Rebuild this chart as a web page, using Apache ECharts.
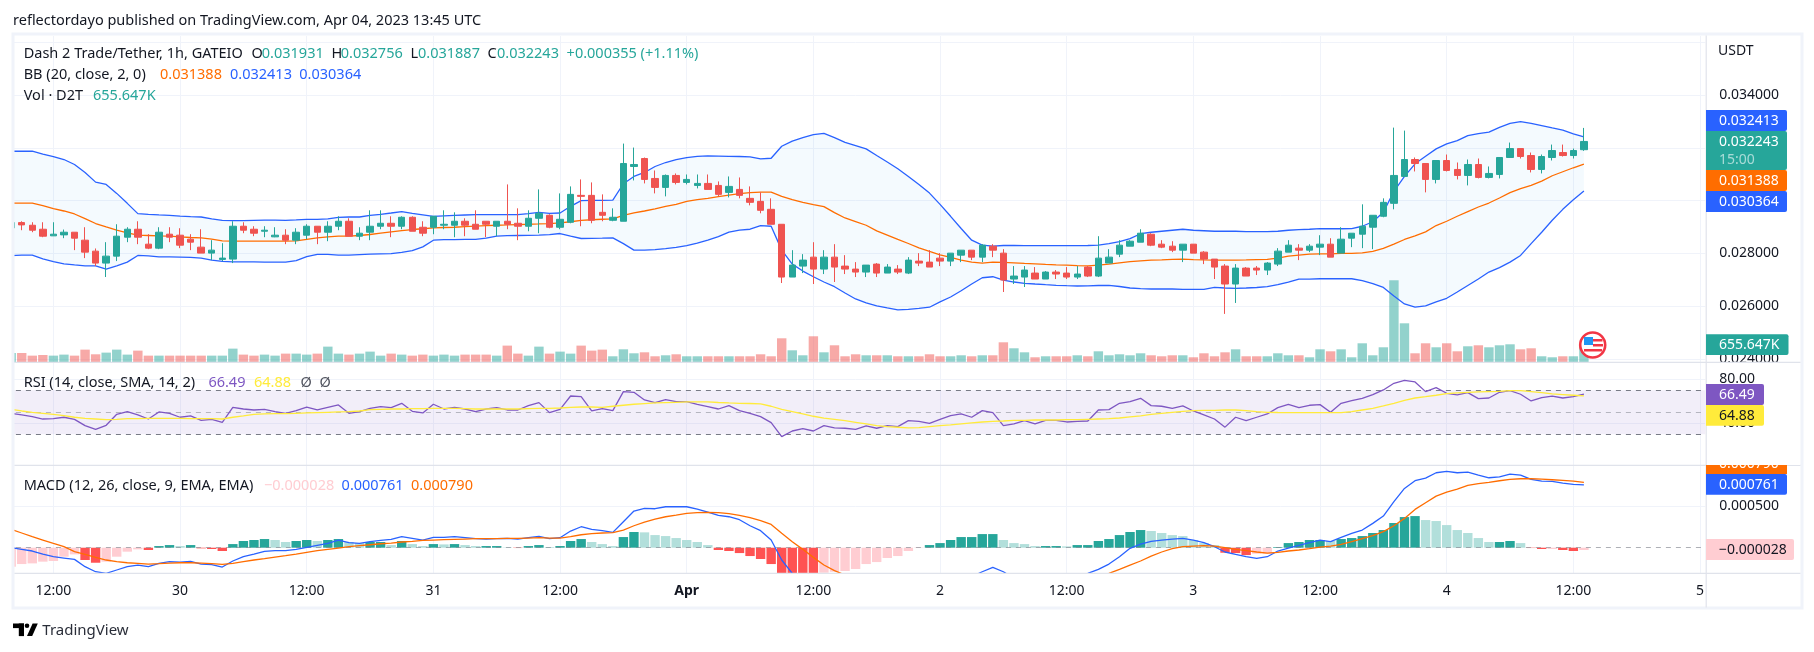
<!DOCTYPE html>
<html><head><meta charset="utf-8">
<style>html,body{margin:0;padding:0;background:#fff}#c{width:1814px;height:652px}</style>
<script src="https://cdn.jsdelivr.net/npm/echarts@6/dist/echarts.min.js"></script>
</head><body><div id="c"></div>
<script>
// Prices in millionths of a USDT (micro-USDT); volume in thousands; one entry per hourly bar.
const openPrice=[28968,29169,29068,28917,28666,28703,28804,28502,28087,27634,27898,28615,28917,28351,28200,28729,28691,28540,28238,28012,27773,27785,29031,28917,28842,28628,28691,28502,28691,29031,28804,29031,29219,28653,28804,29030,29143,29030,29370,28992,28992,29068,29068,29219,29105,29219,29030,29219,29143,29030,29332,29445,28992,29181,30200,30200,29558,29256,29219,31294,31596,30841,30502,30955,30691,30577,30653,30577,30313,30426,30087,29973,29672,29105,27105,27520,27860,27407,27860,27520,27407,27294,27596,27256,27407,27256,27709,27671,27822,27709,27935,28124,27860,28275,28011,27030,27105,27256,27030,27294,27256,27105,27483,27143,27634,27973,28275,28426,28728,28351,28275,28124,28351,28049,27785,27521,26841,27445,27445,27370,27596,28049,28200,28124,28238,28351,28012,28578,28729,28993,29408,29899,30918,31559,31408,30804,31521,31182,30955,31370,30880,30993,31635,31974,31710,31182,31635,31823,31710,31931];
const highPrice=[29194,29219,29182,29182,29182,28905,28804,28993,28188,28427,29106,28993,29219,28729,28993,28993,28955,28729,28917,28502,28389,29219,29182,29031,29031,28993,28917,28955,29106,29031,29219,29408,29332,28992,29634,29634,29407,29407,29407,29219,29407,29634,29558,29332,29634,29219,29219,30615,29709,29634,30426,29483,30275,30540,30804,30691,30238,29709,32162,32011,31634,31143,30992,31030,30992,30992,30992,30728,30917,30879,30540,30313,30087,29105,28124,27973,28426,28124,28351,27935,27671,27558,27634,27596,27558,27860,28011,28124,28011,28011,28124,28124,28351,28351,28162,27521,27521,27483,27332,27370,27483,27521,27521,28653,28162,28502,28502,28917,28766,28502,28464,28351,28351,28087,27785,27596,27596,27483,27521,27672,28200,28502,28351,28351,28690,28577,28993,28766,29861,29446,30087,32767,32654,31635,31408,31521,31748,31446,31559,31597,31295,31635,32201,31974,31823,31748,32125,32125,31974,32756];
const lowPrice=[28943,28880,28804,28615,28666,28578,28125,27823,27521,27106,27710,28427,28351,28163,28163,28427,28200,28125,28012,27747,27710,27634,28766,28653,28615,28615,28351,28351,28540,28351,28464,28880,28653,28502,28502,28917,28615,28917,28841,28653,28728,28917,28615,28653,28917,28615,28653,28917,28502,28841,28766,28954,28917,29143,29030,29143,29219,29219,29219,30766,30653,30275,30162,30615,30615,30464,30426,30162,30124,30087,29822,29521,29105,26879,27105,27256,26841,27218,26917,27218,27105,27105,27105,27256,27218,27218,27520,27483,27520,27520,27671,27747,27671,27860,26539,26841,26728,27030,27030,27030,27030,27030,27105,27105,27634,27860,28275,28426,28275,28200,28049,27672,28011,27596,27030,25709,26124,27143,27181,27181,27521,28049,27747,28049,27936,27860,28012,28238,28200,28163,29370,29672,30918,31106,30314,30653,31106,30804,30578,30842,30842,30842,31635,31597,31069,31031,31521,31672,31597,31887];
const closePrice=[29169,29081,28880,28653,28729,28804,28578,28049,27634,27898,28653,28917,28615,28200,28804,28615,28313,28427,28012,28125,27823,29031,28880,28766,28880,28691,28502,28804,29031,28804,29031,29219,28653,28766,29030,29143,29030,29370,28841,28766,29407,29105,29219,29068,28917,29105,29219,29105,29030,29332,29521,28992,29294,30238,30162,29256,29445,29370,31408,31370,30804,30502,30955,30691,30804,30653,30426,30238,30540,30200,29936,29634,29105,27105,27558,27747,27407,27860,27483,27407,27294,27558,27256,27483,27294,27747,27634,27483,27709,28011,28124,27860,28313,28124,26992,27143,27370,27030,27294,27219,27105,27219,27143,27822,27860,28313,28464,28766,28313,28238,28124,28351,28011,27785,27483,26841,27445,27143,27370,27634,28087,28313,28124,28275,28351,27860,28540,28766,29031,29446,29936,30955,31559,31408,30804,31521,31144,30955,31370,30880,31031,31635,31974,31672,31182,31672,31899,31710,31899,32243];
const bbUpper=[31872,31872,31872,31766,31672,31558,31370,31068,30702,30615,30275,29898,29509,29483,29460,29445,29415,29392,29381,29313,29256,29245,29245,29256,29264,29264,29256,29271,29294,29294,29309,29369,29381,29381,29445,29483,29532,29585,29520,29464,29407,29426,29445,29456,29468,29468,29468,29468,29468,29509,29558,29520,29532,29785,30000,30011,30011,30022,30641,30917,31068,31294,31445,31558,31634,31679,31698,31690,31679,31672,31660,31585,31607,32060,32257,32389,32502,32551,32389,32211,32087,31962,31709,31464,31207,30917,30615,30286,29860,29407,28943,28501,28313,28275,28301,28301,28294,28294,28294,28294,28294,28294,28301,28313,28369,28445,28558,28747,28803,28841,28879,28917,28879,28860,28841,28841,28841,28830,28830,28830,28841,28879,28905,28917,28943,28935,28935,28943,29030,29200,29558,30351,30917,31396,31683,31962,32151,32275,32464,32540,32596,32777,32928,32992,32928,32841,32755,32672,32528,32413];
const bbBasis=[29910,29910,29910,29812,29699,29608,29495,29321,29133,29004,28880,28778,28691,28680,28665,28653,28627,28604,28589,28540,28476,28465,28465,28465,28465,28465,28465,28476,28529,28589,28627,28653,28653,28680,28717,28767,28816,28861,28906,28936,28967,28982,28993,29012,29031,29050,29068,29080,29095,29106,29118,29133,29155,29201,29256,29276,29295,29306,29445,29536,29608,29691,29785,29860,29974,30038,30087,30151,30212,30265,30302,30325,30325,30162,30038,29936,29849,29774,29547,29344,29207,29068,28853,28691,28529,28377,28211,28075,27947,27849,27747,27672,27634,27672,27660,27645,27622,27604,27585,27570,27558,27540,27532,27558,27596,27645,27690,27721,27747,27758,27773,27785,27766,27755,27747,27747,27747,27755,27766,27773,27823,27898,27936,27974,27985,27985,28000,28000,28023,28075,28189,28351,28529,28665,28816,29057,29219,29408,29586,29759,29910,30099,30302,30453,30578,30740,30944,31095,31246,31388];
const bbLower=[27917,27936,27936,27796,27690,27607,27566,27532,27532,27407,27532,27672,27924,27909,27871,27867,27860,27849,27823,27747,27698,27683,27683,27683,27672,27672,27672,27728,27879,27962,27962,27936,27936,27955,27974,27985,27992,28038,28106,28249,28502,28521,28525,28529,28529,28578,28653,28672,28680,28683,28691,28710,28755,28653,28566,28570,28578,28589,28370,28125,28125,28144,28182,28227,28295,28389,28502,28634,28804,28880,28917,29057,29030,28125,27596,27332,27117,26917,26740,26502,26275,26124,26011,25935,25860,25879,25917,25962,26162,26350,26588,26841,27079,27117,26992,26917,26868,26841,26815,26792,26777,26766,26773,26785,26792,26747,26690,26664,26653,26653,26653,26641,26641,26641,26717,26690,26679,26690,26710,26740,26815,26917,27030,27030,27041,27041,27041,27041,26973,26860,26710,26388,26087,25962,26011,26162,26301,26539,26785,27030,27294,27464,27672,27924,28370,28804,29256,29671,30030,30364];
const volumeK=[346,346,247,272,247,285,247,470,297,359,470,285,433,247,247,247,247,247,247,247,247,507,285,247,285,247,322,322,285,322,581,322,285,322,396,247,322,285,247,285,247,285,247,285,285,285,247,619,322,247,581,322,396,322,619,433,470,223,482,334,371,223,260,297,223,223,223,223,223,223,223,297,223,891,445,260,965,371,631,223,297,260,260,260,223,223,223,297,223,223,260,223,260,260,742,520,371,186,223,223,223,260,223,408,260,297,260,334,260,223,260,260,186,334,223,371,482,223,223,223,334,260,260,186,482,408,482,186,705,260,557,3043,1447,334,705,557,705,408,594,631,557,631,668,482,520,223,186,223,223,656];
const rsiValue=[49.1,47.6,46.1,43.9,44.2,45.5,43.6,37.9,34.5,38.2,48.2,50.6,47.6,43.9,50.3,49.1,45.5,46.7,42.7,43.6,40.9,54.5,53,52.1,52.7,50.6,49.1,51.5,54.8,52.1,54.5,56.7,49.1,50.6,53.6,55.2,54.2,58.2,50.9,49.4,57.3,53,54.5,53,50.6,53,54.2,52.1,52.1,56.1,58.8,49.7,52.7,64.8,64.2,51.2,53.3,51.5,68.8,68.2,61.2,58.8,61.5,59.7,59.7,57.3,55.2,53,56.1,51.5,49.1,46.1,40.6,27.9,33,35.2,33,37.9,35.8,35.5,34.5,37.6,35.5,37.9,37,42.4,41.8,40,43.6,47,48.5,45.5,51.5,49.7,37.9,39.4,42.4,39.4,42.7,42.7,41.2,41.8,42.1,52.1,52.4,58.2,59.7,62.7,56.1,55.5,53.6,55.8,51.2,47.6,43.9,36.5,45.5,42.4,45.5,48.5,54.2,57.3,54.2,56.4,57,50,58.2,60.6,62.7,66.1,70.3,76.4,79.1,77.6,68.8,72.4,67.3,65.8,67.9,62.4,63,68.2,69.7,66.4,60.3,63.3,64.8,63,64.2,66.49];
const rsiMa=[52.7,51.2,50,49.1,48.2,47,45.5,44.5,43.9,43.3,43.6,44.2,44.2,44.4,44.5,44.5,44.5,44.2,44.2,44.2,43.9,45.5,46.7,48.2,48.5,48.8,48.8,49.1,49.4,49.7,50,50.3,50.6,51.2,52.4,52.7,53,53,53.3,53.3,53.6,53.6,53.6,53.3,53,53,53,53,53,53.3,53.6,53.6,53.9,54.5,54.8,54.8,54.5,55.5,56.4,57.3,57.9,58.5,58.8,59.1,59.4,59.4,59.4,58.9,58.5,58.2,58,57.6,55.5,52.7,50.6,48.5,46.4,44.8,43.6,42.4,40.9,39.4,37.9,37,36.4,35.8,36.1,37,37.9,38.5,39.4,40.3,41.2,41.8,42.1,42.7,42.7,43,43,43,43.3,43.3,43.6,43.9,44.2,44.8,45.8,46.7,48.2,49.1,50,50.9,51.5,51.7,51.8,52.1,52.1,51.5,50.6,50,49.8,49.7,49.7,49.7,49.7,49.7,49.7,50.6,52.1,53.6,55.8,58.2,60.9,63,64.2,65.5,67,67.6,68.2,68.5,68.8,69.1,69.7,69.7,68.8,67.9,66.7,66.1,65.5,64.88];
const macdHist=[-230,-198,-190,-169,-161,-109,-81,-149,-182,-169,-109,-48,-20,-28,20,32,20,32,-8,-16,-40,44,81,93,105,93,69,81,93,81,93,105,69,56,69,69,32,81,44,20,44,40,44,32,20,20,20,4,-4,20,32,8,20,81,105,69,44,20,129,190,186,153,141,117,93,69,32,-28,-40,-65,-101,-137,-198,-331,-351,-371,-391,-303,-291,-282,-258,-198,-174,-125,-101,-40,-4,32,56,93,129,129,165,165,93,56,44,20,20,20,16,32,32,81,105,153,190,214,202,178,153,141,93,56,32,-61,-65,-89,-73,-73,8,56,69,93,93,81,105,117,141,178,214,299,371,383,335,323,274,214,178,117,69,69,81,56,-4,-16,-16,-28,-40,-28];
const macdLine=[0,-20,-40,-77,-109,-125,-141,-230,-291,-311,-270,-230,-210,-230,-190,-169,-174,-165,-198,-206,-234,-161,-109,-77,-44,-36,-36,-20,4,28,52,93,61,52,73,89,101,133,113,93,125,125,133,121,109,105,109,113,105,121,137,109,121,202,254,222,206,186,315,444,476,472,496,496,496,468,432,391,375,339,266,206,93,-149,-311,-430,-520,-590,-640,-680,-700,-720,-730,-730,-720,-700,-660,-620,-580,-530,-480,-351,-291,-238,-291,-371,-400,-420,-420,-400,-380,-345,-311,-262,-198,-109,-8,44,77,93,105,113,93,61,12,-52,-81,-109,-129,-109,-40,-4,28,61,93,73,125,174,214,295,383,557,718,811,843,908,924,908,916,880,847,859,892,880,827,807,803,783,767,761];
const macdSignal=[222,178,133,93,52,12,-48,-81,-117,-149,-169,-182,-190,-198,-194,-186,-182,-182,-186,-194,-202,-190,-169,-149,-133,-113,-97,-77,-56,-36,-20,-4,12,24,36,48,56,69,77,89,93,97,101,105,109,109,109,113,113,117,121,117,117,133,157,170,178,182,214,266,311,347,375,395,416,424,428,424,412,391,363,327,282,174,73,-20,-117,-210,-278,-331,-400,-450,-490,-520,-540,-555,-565,-570,-565,-555,-540,-520,-490,-470,-450,-440,-430,-425,-420,-420,-410,-395,-380,-355,-311,-262,-210,-161,-101,-52,-12,12,20,24,20,0,-20,-36,-52,-65,-56,-40,-28,-12,8,20,40,73,109,145,194,266,355,464,545,625,674,710,755,775,791,811,827,835,835,831,823,815,807,790];
const timeTickLabels=['12:00','30','12:00','31','12:00','Apr','12:00','2','12:00','3','12:00','4','12:00','5'];
const priceTickLabels=[34000,28000,26000,24000];
const rsiTickLabels=[40,80];
const macdTickLabels=[500];

const BARS=150, SLOTS=161, FIRST_TICK=4, TICK_STEP=12;
for(const a of [openPrice,highPrice,lowPrice,closePrice,bbUpper,bbBasis,bbLower,volumeK,rsiValue,rsiMa,macdHist,macdLine,macdSignal])
  if(a.length!==BARS) throw new Error('length '+a.length+' '+a[0]);

const UP='#26a69a',DOWN='#ef5350',BLUE='#2962ff',ORANGE='#ff6d00',PURPLE='#7e57c2',YELLOW='#ffeb3b',GRID='#f0f3fa',DIV='#e0e3eb',TXT='#131722';
const FONT='"Noto Sans","Open Sans",sans-serif';
const slots=Array.from({length:SLOTS},(_,i)=>String(i));
const isTick=i=>i>=FIRST_TICK&&(i-FIRST_TICK)%TICK_STEP===0;
const L=5.9,W=1699.4;

const axisX=(g,extra)=>Object.assign({type:'category',gridIndex:g,data:slots,boundaryGap:true,
  axisLine:{show:false},axisTick:{show:false},axisLabel:{show:false},
  splitLine:{show:true,alignWithLabel:true,interval:isTick,lineStyle:{color:GRID,width:1}}},extra||{});

const candles=openPrice.map((o,i)=>[o,closePrice[i],lowPrice[i],highPrice[i]]);
const bandWidth=bbUpper.map((u,i)=>u-bbLower[i]);
const line=(name,x,y,data,color,width)=>({name,type:'line',xAxisIndex:x,yAxisIndex:y,data,showSymbol:false,symbol:'none',smooth:false,silent:true,animation:false,lineStyle:{color,width:width||1.3},z:6});
const histColor=p=>{const i=p.dataIndex,v=macdHist[i],prev=i?macdHist[i-1]:v;
  if(v>=0) return v>=prev?UP:'#b2dfdb'; return v<prev?'#ff5252':'#ffcdd2';};

const el=[];
const rect=(x,y,w,h,fill,z,r)=>el.push({type:'rect',silent:true,z:z||100,shape:{x,y,width:w,height:h,r:r||0},style:{fill}});
const text=(s,x,y,fill,size,z,weight)=>el.push({type:'text',silent:true,z:z||110,style:{text:s,x,y,fill,font:(weight||'normal')+' '+(size||14.5)+'px '+FONT,verticalAlign:'middle',align:'left'}});

// margins and frame
rect(0,0,13,652,'#fff',90);rect(0,0,1814,34,'#fff',90);rect(0,609,1814,43,'#fff',90);rect(1803,0,11,652,'#fff',90);
el.push({type:'rect',silent:true,z:95,shape:{x:13,y:34,width:1789,height:574},style:{fill:'none',stroke:GRID,lineWidth:3}});
// clip strip in the scale column
rect(1707,362.5,93,9,'#fff',92);rect(1707,450,93,15,'#fff',98);
// dividers
rect(14.5,361.8,1786,1.2,DIV,96);rect(14.5,464.8,1786,1.2,DIV,96);rect(14.5,572.8,1786,1.2,DIV,96);rect(1705.6,35.5,1.2,572,DIV,96);
// header
text('reflectordayo published on TradingView.com, Apr 04, 2023 13:45 UTC',13,20.5,TXT,14.5);
// legends
text('Dash 2 Trade/Tether, 1h, GATEIO',23.7,54,TXT);
[['O',251.5,'0.031931',261.8],['H',331.4,'0.032756',340.8],['L',410.4,'0.031887',418],['C',487.5,'0.032243',497]].forEach(a=>{text(a[0],a[1],54,TXT);text(a[2],a[3],54,UP);});
text('+0.000355 (+1.11%)',566.6,54,UP);
text('BB (20, close, 2, 0)',23.7,75,TXT);text('0.031388',160,75,ORANGE);text('0.032413',230,75,BLUE);text('0.030364',299.3,75,BLUE);
text('Vol · D2T',23.7,96,TXT);text('655.647K',93,96,UP);
text('RSI (14, close, SMA, 14, 2)',23.7,382.7,TXT);text('66.49',208.4,382.7,PURPLE);text('64.88',254,382.7,YELLOW);text('Ø',300.5,382.7,'#50535e');text('Ø',319.5,382.7,'#50535e');
text('MACD (12, 26, close, 9, EMA, EMA)',23.7,485.7,TXT);text('−0.000028',264,485.7,'#ffcdd2');text('0.000761',341.6,485.7,BLUE);text('0.000790',411,485.7,ORANGE);
// scale tags
text('USDT',1718,50.7,TXT,14);
const tag=(s,y,h,w,bg,fg)=>{rect(1706,y,w,h,bg,100,[0,2,2,0]);text(s,1719,y+h/2+0.3,fg||'#fff',14);};
tag('0.032413',110,21,81,BLUE);
rect(1706,131,81,39,UP,100,[0,2,2,0]);text('0.032243',1719,141.7,'#fff',14);text('15:00',1719,159.7,'rgba(255,255,255,.6)',14);
tag('0.031388',170,21,81,ORANGE);
tag('0.030364',191,21,81,BLUE);
tag('655.647K',334.3,20.7,82.5,UP);
tag('66.49',384,21,58,PURPLE);
tag('64.88',405,20.7,58,YELLOW,TXT);
rect(1706,465,81,9,ORANGE,97);text('0.000790',1719,463.7,'#fff',14,97);
tag('0.000761',474,20.7,81,BLUE);
tag('−0.000028',539,21,88,'#ffcdd2',TXT);
// flag badge
el.push({type:'circle',silent:true,z:120,shape:{cx:1592.7,cy:345,r:12.5},style:{fill:'#fff',stroke:'#f23645',lineWidth:2.6}});
rect(1584,337,9,8,'#2196f3',121);rect(1593,339,9.5,2.5,'#f23645',121);rect(1593,344,10,2.5,'#f23645',121);rect(1584,349,18,2.5,'#f23645',121);
// brand mark
rect(13,623.5,11,4.6,'#000',110);rect(18.8,623.5,5.2,12.6,'#000',110);
el.push({type:'circle',silent:true,z:110,shape:{cx:27,cy:625.8,r:2.3},style:{fill:'#000'}});
el.push({type:'polygon',silent:true,z:110,shape:{points:[[32.6,623.5],[37.8,623.5],[32.2,636.1],[27,636.1]]},style:{fill:'#000'}});
text('TradingView',42.3,631,'#2a2e39',15);

const option={animation:false,backgroundColor:'#fff',textStyle:{fontFamily:FONT},
 grid:[
  {left:L,width:W,top:36,height:326.3},
  {left:L,width:W,top:42.3,height:316.7},
  {left:L,width:W,top:361.7,height:105.6},
  {left:L,width:W,top:465.3,height:108}],
 xAxis:[axisX(0),axisX(1,{splitLine:{show:false}}),axisX(2),
  axisX(3,{axisLabel:{show:true,interval:isTick,margin:11,color:TXT,fontSize:14,fontFamily:FONT,
    formatter:(v,i)=>{const s=timeTickLabels[(Number(v)-FIRST_TICK)/TICK_STEP];return s==='Apr'?'{b|Apr}':s;},
    rich:{b:{fontWeight:'bold',fontSize:14,color:TXT,fontFamily:FONT}}}})],
 yAxis:[
  {type:'value',gridIndex:0,min:0,max:12106,show:false},
  {type:'value',gridIndex:1,position:'right',min:24000,max:36000,interval:2000,axisLine:{show:false},axisTick:{show:false},
   splitLine:{show:true,lineStyle:{color:GRID}},
   axisLabel:{margin:14,color:TXT,fontSize:14,fontFamily:FONT,formatter:v=>priceTickLabels.includes(v)?(v/1e6).toFixed(6):''}},
  {type:'value',gridIndex:2,position:'right',min:0,max:96,interval:40,axisLine:{show:false},axisTick:{show:false},
   splitLine:{show:true,showMinLine:false,showMaxLine:false,lineStyle:{color:GRID}},
   axisLabel:{margin:14,color:TXT,fontSize:14,fontFamily:FONT,formatter:v=>rsiTickLabels.includes(v)?v.toFixed(2):''}},
  {type:'value',gridIndex:3,position:'right',min:-310,max:998,axisLine:{show:false},axisTick:{show:false},splitLine:{show:false},
   axisLabel:{margin:14,color:TXT,fontSize:14,fontFamily:FONT,customValues:macdTickLabels,formatter:v=>(v/1e6).toFixed(6)}}],
 series:[
  {name:'Volume',type:'bar',xAxisIndex:0,yAxisIndex:0,data:volumeK,barWidth:9.4,silent:true,z:3,
   itemStyle:{color:p=>closePrice[p.dataIndex]>=openPrice[p.dataIndex]?'rgba(38,166,154,.5)':'rgba(239,83,80,.5)'}},
  {name:'lowerBase',type:'line',xAxisIndex:1,yAxisIndex:1,stack:'bb',data:bbLower,symbol:'none',showSymbol:false,lineStyle:{opacity:0,width:0},silent:true,z:2},
  {name:'bandFill',type:'line',xAxisIndex:1,yAxisIndex:1,stack:'bb',data:bandWidth,symbol:'none',showSymbol:false,lineStyle:{opacity:0,width:0},areaStyle:{color:'rgba(33,150,243,.05)',opacity:1},silent:true,z:2},
  line('BB upper',1,1,bbUpper,BLUE),line('BB basis',1,1,bbBasis,ORANGE),line('BB lower',1,1,bbLower,BLUE),
  {name:'Price',type:'candlestick',xAxisIndex:1,yAxisIndex:1,data:candles,barWidth:7,silent:true,z:8,
   itemStyle:{color:UP,color0:DOWN,borderColor:UP,borderColor0:DOWN,borderWidth:1}},
  Object.assign(line('RSI',2,2,rsiValue,PURPLE),{
   markArea:{silent:true,itemStyle:{color:'rgba(126,87,194,.1)'},data:[[{yAxis:30},{yAxis:70}]]},
   markLine:{silent:true,symbol:'none',label:{show:false},lineStyle:{color:'#787b86',type:[5,5],width:1},
    data:[{yAxis:70},{yAxis:30},{yAxis:50,lineStyle:{color:'rgba(120,123,134,.5)',type:[5,5],width:1}}]}}),
  line('RSI MA',2,2,rsiMa,YELLOW),
  {name:'MACD hist',type:'bar',xAxisIndex:3,yAxisIndex:3,data:macdHist,barWidth:9.4,silent:true,z:3,itemStyle:{color:histColor},
   markLine:{silent:true,symbol:'none',label:{show:false},lineStyle:{color:GRID,type:'solid',width:1},
    data:[{yAxis:500},{yAxis:0,lineStyle:{color:'rgba(120,123,134,.6)',type:[5,5],width:1}}]}},
  line('MACD',3,3,macdLine,BLUE),line('Signal',3,3,macdSignal,ORANGE)
 ],
 graphic:{elements:el}
};
echarts.init(document.getElementById('c'),null,{renderer:'canvas'}).setOption(option);
</script></body></html>
